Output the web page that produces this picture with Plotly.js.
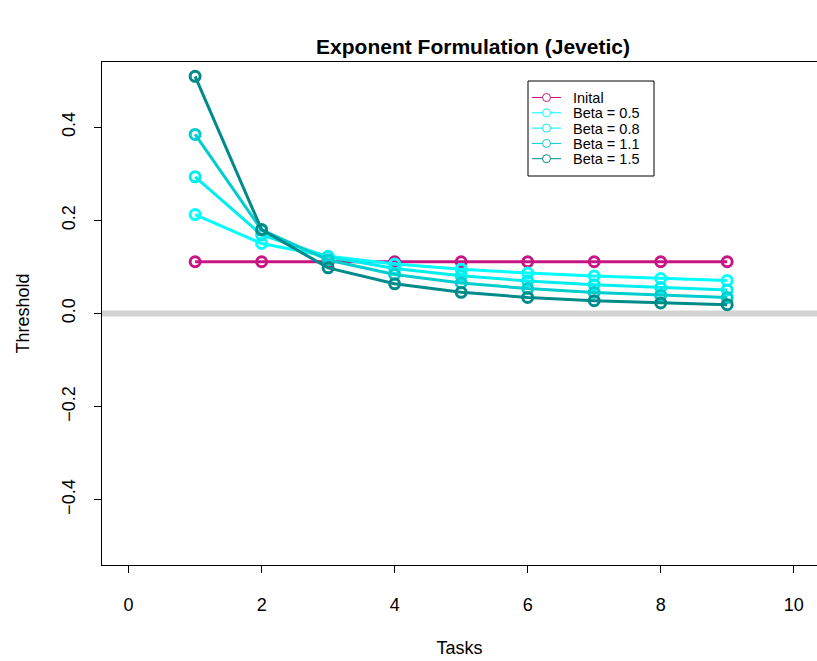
<!DOCTYPE html>
<html>
<head>
<meta charset="utf-8">
<script src="https://cdn.plot.ly/plotly-3.0.1.min.js"></script>
<style>html,body{margin:0;padding:0;background:#fff;}#chart{width:817px;height:661px;}</style>
</head>
<body>
<div id="chart"></div>
<script>
const tasks = [1, 2, 3, 4, 5, 6, 7, 8, 9];
const inital  = [0.1111, 0.1111, 0.1111, 0.1111, 0.1111, 0.1111, 0.1111, 0.1111, 0.1111];
const beta05  = [0.2125, 0.1503, 0.1227, 0.1063, 0.0951, 0.0868, 0.0803, 0.0752, 0.0708];
const beta08  = [0.2935, 0.1686, 0.1219, 0.0968, 0.0810, 0.0700, 0.0619, 0.0556, 0.0506];
const beta11  = [0.3845, 0.1794, 0.1149, 0.0837, 0.0655, 0.0536, 0.0452, 0.0390, 0.0343];
const beta15  = [0.5092, 0.1801, 0.0980, 0.0637, 0.0455, 0.0346, 0.0275, 0.0225, 0.0189];
const seriesNames = ["Inital", "Beta = 0.5", "Beta = 0.8", "Beta = 1.1", "Beta = 1.5"];
const seriesColors = ["#C71585", "#00FFFF", "#00EEEE", "#00CDCD", "#008B8B"];
const seriesValues = [inital, beta05, beta08, beta11, beta15];
const xTicks = [0, 2, 4, 6, 8, 10];
const yTicks = [-0.4, -0.2, 0.0, 0.2, 0.4];

const FONT = "Liberation Sans, Arial, Helvetica, sans-serif";
const ML = 102, MT = 62, MB = 96, W = 817, H = 661;
const PW = W - ML, PH = H - MT - MB;
const px = v => (v - ML) / PW;
const py = v => (H - MB - v) / PH;

const traces = seriesValues.map((vals, i) => ({
  x: tasks, y: vals, type: "scatter", mode: "lines+markers",
  name: seriesNames[i], showlegend: false,
  line: {color: seriesColors[i], width: 3},
  marker: {symbol: "circle-open", size: 10, color: seriesColors[i], line: {width: 3, color: seriesColors[i]}}
}));

// custom legend (R style)
const shapes = [{type: "line", xref: "paper", yref: "y", x0: 0, x1: 1, y0: 0, y1: 0,
                 line: {color: "#D3D3D3", width: 6}, layer: "below"},
                {type: "rect", xref: "paper", yref: "paper", x0: px(528), x1: px(654), y0: py(81), y1: py(176),
                 line: {color: "#000", width: 1}, fillcolor: "#fff", layer: "above"}];
const annotations = [];
const rowY = [97.5, 112.8, 128.1, 143.4, 158.7];
seriesNames.forEach((nm, i) => {
  const yy = rowY[i];
  shapes.push({type: "line", xref: "paper", yref: "paper", x0: px(532), x1: px(561), y0: py(yy), y1: py(yy),
               line: {color: seriesColors[i], width: 1}, layer: "above"});
  shapes.push({type: "circle", xref: "paper", yref: "paper", x0: px(542.5), x1: px(550.5), y0: py(yy - 4), y1: py(yy + 4),
               line: {color: seriesColors[i], width: 1}, fillcolor: "#fff", layer: "above"});
  annotations.push({xref: "paper", yref: "paper", x: px(572), y: py(yy), xanchor: "left", yanchor: "middle",
                    text: nm, showarrow: false, borderpad: 0, height: 13,
                    font: {size: 14.5, family: FONT, color: "#000"}});
});

const layout = {
  width: W, height: H,
  margin: {l: ML, r: 0, t: MT, b: MB},
  paper_bgcolor: "#fff", plot_bgcolor: "#fff",
  font: {family: FONT, size: 18, color: "#000"},
  showlegend: false,
  title: {text: "<b>Exponent Formulation (Jevetic)</b>", font: {size: 21, family: FONT},
          x: 473/817, xref: "container", xanchor: "center", y: 1 - 47/661, yref: "container", yanchor: "middle"},
  xaxis: {range: [-0.4, 10.35], tickvals: xTicks, ticktext: xTicks.map(String),
          showgrid: false, zeroline: false, showline: true, mirror: true,
          linecolor: "#000", linewidth: 1, ticks: "outside", ticklen: 7, tickcolor: "#000",
          ticklabelstandoff: 16, tickfont: {size: 18},
          title: {text: "Tasks", font: {size: 18}, standoff: 27}},
  yaxis: {range: [-0.54, 0.54], tickvals: yTicks, ticktext: yTicks.map(v => v.toFixed(1).replace("-", "\u2212")),
          tickangle: -90, showgrid: false, zeroline: false, showline: true, mirror: false,
          linecolor: "#000", linewidth: 1, ticks: "outside", ticklen: 7, tickcolor: "#000",
          ticklabelstandoff: 12, tickfont: {size: 18},
          title: {text: "Threshold", font: {size: 18}, standoff: 24}},
  shapes: shapes,
  annotations: annotations
};
Plotly.newPlot("chart", traces, layout, {displayModeBar: false, staticPlot: true});
</script>
</body>
</html>
